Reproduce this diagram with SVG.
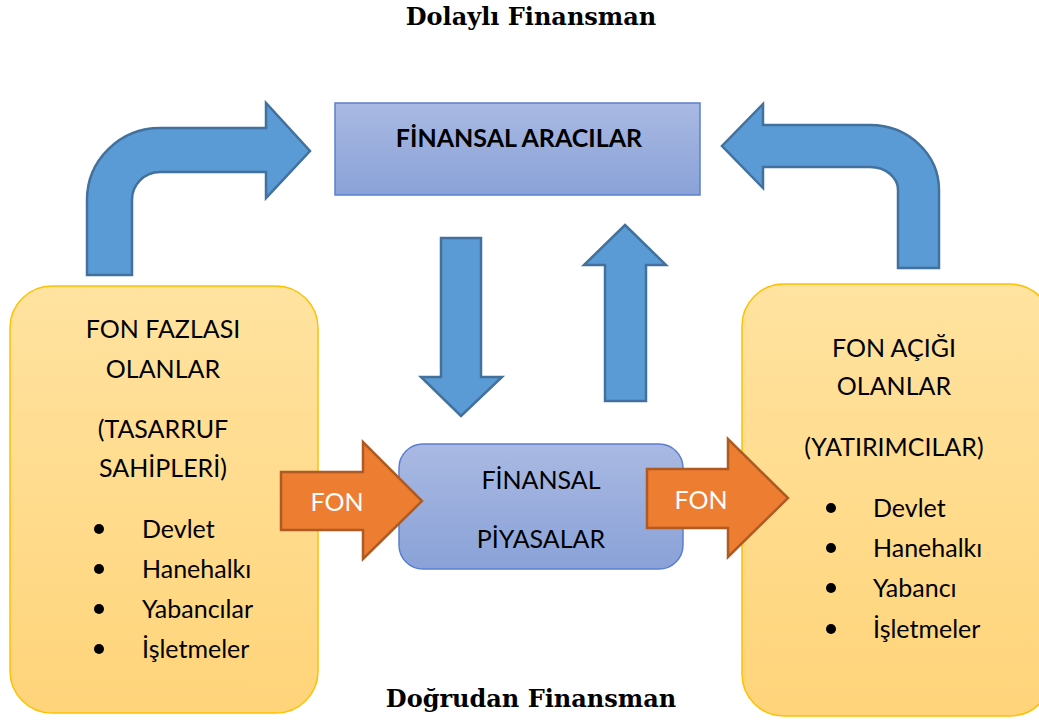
<svg xmlns="http://www.w3.org/2000/svg" width="1039" height="722" viewBox="0 0 1039 722">
<defs>
<linearGradient id="gBlue" x1="0" y1="0" x2="0" y2="1"><stop offset="0" stop-color="#a9b9e2"/><stop offset="1" stop-color="#8aa2d8"/></linearGradient>
<linearGradient id="gYel" x1="0" y1="0" x2="0" y2="1"><stop offset="0" stop-color="#ffe3a0"/><stop offset="1" stop-color="#ffd47a"/></linearGradient>
<style>
.barrow{fill:#5b9bd5;stroke:#41719c;stroke-width:2.5;stroke-linejoin:miter}
.oarrow{fill:#ed7d31;stroke:#ae5a21;stroke-width:2.5}
.bluebox{fill:url(#gBlue);stroke:#5b7fd0;stroke-width:1.5}
.yelbox{fill:url(#gYel);stroke:#ffc000;stroke-width:1.5}
.t{font-family:Lato,"Liberation Sans",Arial,sans-serif;font-size:25px;fill:#000}
.c{text-anchor:middle}
.w{fill:#fff}
.title{font-family:"DejaVu Serif","Liberation Serif",serif;font-weight:bold;font-size:24px;text-anchor:middle;fill:#000}
</style>
</defs>
<rect width="1039" height="722" fill="#fff"/>
<text class="title" x="531" y="25">Dolaylı Finansman</text>
<text class="title" x="531" y="707">Doğrudan Finansman</text>

<g id="connectors">
<path class="barrow" d="M87,275 L87,200 A73,72 0 0 1 160,128 L266,128 L266,103 L310,151 L266,198 L266,172 L160,172 A28,28 0 0 0 132,200 L132,275 Z"/>
<path class="barrow" d="M939,268 L939,190 A69,65 0 0 0 870,125 L763,125 L763,104 L722,146 L763,188 L763,167 L870,167 A28,23 0 0 1 898,190 L898,268 Z"/>
<path class="barrow" d="M441,238 L481,238 L481,377 L502,377 L461,416 L421,377 L441,377 Z"/>
<path class="barrow" d="M625,225 L666,265 L646,265 L646,401 L605,401 L605,265 L584,265 Z"/>
</g>

<g id="node-aracilar">
<rect class="bluebox" x="335" y="103" width="365" height="92"/>
<text class="t c" x="519" y="147" font-weight="bold">FİNANSAL ARACILAR</text>
</g>

<g id="node-fazla">
<rect class="yelbox" x="10" y="286" width="308" height="427" rx="42"/>
<text class="t c" x="163" y="338">FON FAZLASI</text>
<text class="t c" x="163" y="378">OLANLAR</text>
<text class="t c" x="163" y="438">(TASARRUF</text>
<text class="t c" x="163" y="477">SAHİPLERİ)</text>
<circle cx="99" cy="529" r="5"/><text class="t" x="142" y="538">Devlet</text>
<circle cx="99" cy="569" r="5"/><text class="t" x="142" y="578">Hanehalkı</text>
<circle cx="99" cy="609" r="5"/><text class="t" x="142" y="618">Yabancılar</text>
<circle cx="99" cy="649" r="5"/><text class="t" x="142" y="658">İşletmeler</text>
</g>

<g id="node-acik">
<rect class="yelbox" x="742" y="284" width="310" height="432" rx="42"/>
<text class="t c" x="894" y="357">FON AÇIĞI</text>
<text class="t c" x="894" y="395">OLANLAR</text>
<text class="t c" x="894" y="456">(YATIRIMCILAR)</text>
<circle cx="831" cy="508" r="5"/><text class="t" x="873" y="517">Devlet</text>
<circle cx="831" cy="548" r="5"/><text class="t" x="873" y="557">Hanehalkı</text>
<circle cx="831" cy="588" r="5"/><text class="t" x="873" y="597">Yabancı</text>
<circle cx="831" cy="629" r="5"/><text class="t" x="873" y="638">İşletmeler</text>
</g>

<g id="node-piyasalar">
<rect class="bluebox" x="399" y="444" width="284" height="125" rx="24"/>
<text class="t c" x="541" y="489">FİNANSAL</text>
<text class="t c" x="541" y="548">PİYASALAR</text>
</g>

<g id="arrow-fon-left">
<path class="oarrow" d="M281,472 L363,472 L363,442 L422,501 L363,559 L363,530 L281,530 Z"/>
<text class="t c w" x="337" y="511">FON</text>
</g>
<g id="arrow-fon-right">
<path class="oarrow" d="M647,469 L728,469 L728,439 L788,498 L728,557 L728,528 L647,528 Z"/>
<text class="t c w" x="701" y="509">FON</text>
</g>
</svg>
